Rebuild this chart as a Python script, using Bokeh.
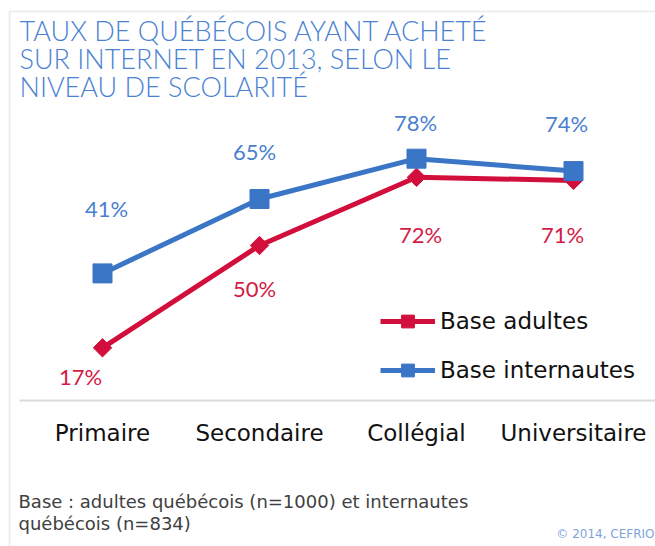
import math
from bokeh.plotting import figure
from bokeh.models import (ColumnDataSource, Label, Legend, LegendItem, BoxAnnotation,
                          Range1d, LinearAxis, FixedTicker)
from bokeh.core.properties import value
from bokeh.embed import file_html
from bokeh.resources import INLINE

# ---- data ----
categories = ["Primaire", "Secondaire", "Collégial", "Universitaire"]
adultes = [17, 50, 72, 71]
internautes = [41, 65, 78, 74]
series_names = ["Base adultes", "Base internautes"]
title_lines = ["TAUX DE QUÉBÉCOIS AYANT ACHETÉ",
               "SUR INTERNET EN 2013, SELON LE",
               "NIVEAU DE SCOLARITÉ"]
footnote_lines = ["Base : adultes québécois (n=1000) et internautes",
                  "québécois (n=834)"]
credit = "© 2014, CEFRIO"

# ---- layout constants (pixels) ----
W, H = 655, 546
X0, STEP = 102, 157          # centre of first category, spacing
Y0, K = 400, 3.1             # pixel row of value 0, pixels per unit

def px_x(px):
    return (px - X0) / STEP

def px_y(py):
    return (Y0 - py) / K

# ---- styles / label placement (pixels) ----
RED = "#d20f3c"
BLUE = "#3b75c6"
RED_TXT = "#d41a45"
BLUE_TXT = "#4a7fcf"
TITLE_C = "#4a82d3"
FONT = "DejaVu Sans"
TITLE_FONT = "Lato Light, DejaVu Sans"
dx_a = [-22, -5, 4, -11]
dy_a = [29, 43, 57, 54]
dx_i = [4, -5, -1, -7]
dy_i = [-65, -48, -36, -48]

idx = list(range(len(categories)))
src = ColumnDataSource(dict(
    x=idx, adultes=adultes, internautes=internautes,
    lab_a=[f"{v}%" for v in adultes], lab_i=[f"{v}%" for v in internautes],
    dx_a=dx_a, dy_a=dy_a, dx_i=dx_i, dy_i=dy_i))

p = figure(x_range=Range1d(px_x(0), px_x(W)), y_range=Range1d(px_y(H), px_y(0)),
           width=W, height=H, output_backend="svg", toolbar_location=None,
           x_axis_location=None, y_axis_location=None,
           min_border_left=0, min_border_right=0, min_border_top=0, min_border_bottom=0)
p.xgrid.visible = False
p.ygrid.visible = False
p.outline_line_color = None

# frame border (left and top edges)
p.add_layout(BoxAnnotation(left=px_x(9), right=px_x(W + 50), top=px_y(11), bottom=px_y(H + 50),
                           fill_alpha=0, line_color="#c8c8c8", line_width=2, level="underlay"))

ax = LinearAxis(fixed_location=0, ticker=FixedTicker(ticks=idx),
                major_label_overrides={i: c for i, c in zip(idx, categories)},
                bounds=(px_x(19), px_x(W)))
ax.axis_line_color = "#d9d9d9"
ax.axis_line_width = 2
ax.major_tick_line_color = None
ax.minor_tick_line_color = None
ax.major_label_text_font = FONT
ax.major_label_text_font_size = "23px"
ax.major_label_text_color = "#111111"
ax.major_label_standoff = 13
p.add_layout(ax, "below")

r_line = p.line("x", "adultes", source=src, line_color=RED, line_width=5)
r_mark = p.scatter("x", "adultes", source=src, marker="square", angle=math.pi / 4,
                   size=13, fill_color=RED, line_color=RED)
b_line = p.line("x", "internautes", source=src, line_color=BLUE, line_width=5)
b_mark = p.scatter("x", "internautes", source=src, marker="square",
                   size=19, fill_color=BLUE, line_color=BLUE)

p.text(x="x", y="adultes", text="lab_a", x_offset="dx_a", y_offset="dy_a", source=src,
       text_align="center", text_baseline="middle", text_font=value("Lato"),
       text_font_size="22px", text_color=RED_TXT)
p.text(x="x", y="internautes", text="lab_i", x_offset="dx_i", y_offset="dy_i", source=src,
       text_align="center", text_baseline="middle", text_font=value("Lato"),
       text_font_size="22px", text_color=BLUE_TXT)

legend = Legend(items=[LegendItem(label=series_names[0], renderers=[r_line, r_mark]),
                       LegendItem(label=series_names[1], renderers=[b_line, b_mark])],
                location=(380, H - 386), glyph_width=55, glyph_height=32, label_height=32,
                label_standoff=5, spacing=17, padding=0, margin=0,
                border_line_color=None, background_fill_alpha=0,
                label_text_font=FONT, label_text_font_size="23px",
                label_text_color="#111111")
p.add_layout(legend)

# title (screen units: from the frame's bottom-left, upward)
for i, t in enumerate(title_lines):
    p.add_layout(Label(x=19, y=H - 30 - 28 * i, x_units="screen", y_units="screen", text=t,
                       text_align="left", text_baseline="middle", text_font=TITLE_FONT,
                       text_font_size="27px", text_color=TITLE_C))
for i, t in enumerate(footnote_lines):
    p.add_layout(Label(x=18, y=H - 501 - 22 * i, x_units="screen", y_units="screen", text=t,
                       text_align="left", text_baseline="middle", text_font=FONT,
                       text_font_size="18px", text_color="#404040"))
p.add_layout(Label(x=W - 1, y=H - 533, x_units="screen", y_units="screen", text=credit,
                   text_align="right", text_baseline="middle", text_font=FONT,
                   text_font_size="12px", text_color="#7ea3da"))

open("out.html", "w").write(file_html(p, INLINE))
